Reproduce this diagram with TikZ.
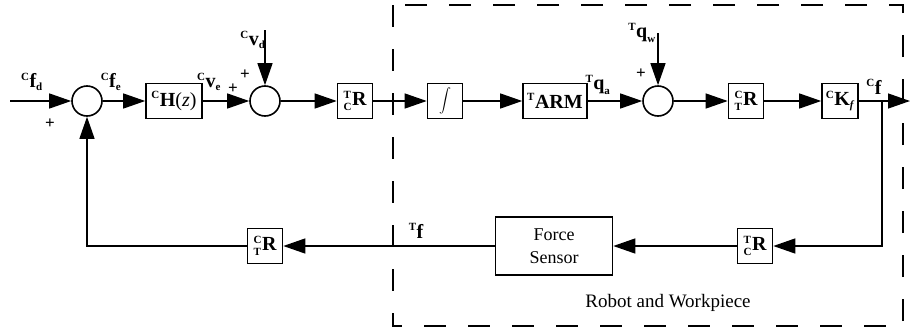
\documentclass[tikz,border=0pt]{standalone}
\usepackage{exscale}
\usepackage{fontspec}
\setmainfont{Liberation Serif}
\usetikzlibrary{arrows.meta}
\newcommand{\sm}[1]{\mbox{\fontsize{11}{12}\selectfont\bfseries #1}}
\begin{document}
\begin{tikzpicture}[x=1pt,y=-1pt,
 blk/.style={draw,line width=1.6pt,minimum height=35pt,minimum width=35pt,inner sep=0pt,font=\fontsize{20}{22}\selectfont},
 sumc/.style={draw,circle,line width=1.6pt,minimum size=30pt,inner sep=0pt},
 sig/.style={line width=1.3pt,-{Triangle[length=22pt,width=15pt]}},
 lab/.style={font=\fontsize{20}{22}\selectfont,inner sep=0pt},
 pm/.style={font=\fontsize{17}{18}\selectfont\bfseries,inner sep=0pt},
 frame/.style={line width=1.6pt,dash pattern=on 22pt off 22pt}
]
\useasboundingbox (0,0) rectangle (910,335);
\coordinate (in) at (10,101);
\node[sumc] (s1) at (87,101) {};
\node[blk,minimum width=56pt] (H) at (174,101) {${}^{\sm{C}}\mbox{\bfseries H}\mbox{(\itshape z\/\upshape)}$};
\node[sumc] (s2) at (265,101) {};
\node[blk] (R1) at (355,101) {${}^{\sm{T}}_{\sm{C}}\mbox{\bfseries R}$};
\node[blk,font=\fontsize{13}{14}\selectfont] (I) at (445,101) {$\displaystyle\int$};
\node[blk,minimum width=64pt] (A) at (555,101) {${}^{\sm{T}}\mbox{\bfseries ARM}$};
\node[sumc] (s3) at (658,101) {};
\node[blk] (R2) at (746,101) {${}^{\sm{C}}_{\sm{T}}\mbox{\bfseries R}$};
\node[blk,minimum width=36pt] (K) at (840,101) {${}^{\sm{C}}\mbox{\bfseries K}_{\sm{\itshape f}}$};
\coordinate (br) at (882,101);
\coordinate (out) at (910,101);
\coordinate (c1) at (882,246);
\node[blk] (R3) at (755,246) {${}^{\sm{T}}_{\sm{C}}\mbox{\bfseries R}$};
\node[blk,minimum width=117pt,minimum height=58pt,align=center,font=\fontsize{18}{23}\selectfont] (FS) at (554,246) {Force\\Sensor};
\node[blk] (R4) at (265,246) {${}^{\sm{C}}_{\sm{T}}\mbox{\bfseries R}$};
\coordinate (c2) at (87,246);
\coordinate (vd) at (265,30);
\coordinate (qw) at (658,33);

\draw[sig] (in) -- (s1);
\draw[sig] (s1) -- (H);
\draw[sig] (H) -- (s2);
\draw[sig] (vd) -- (s2);
\draw[sig] (s2) -- (R1);
\draw[sig] (R1) -- (I);
\draw[sig] (I) -- (A);
\draw[sig] (A) -- (s3);
\draw[sig] (qw) -- (s3);
\draw[sig] (s3) -- (R2);
\draw[sig] (R2) -- (K);
\draw[sig] (K) -- (out);
\draw[sig] (br) -- (c1) -- (R3);
\draw[sig] (R3) -- (FS);
\draw[sig] (FS) -- (R4);
\draw[sig] (R4) -- (c2) -- (s1);

\draw[frame] (393,5) rectangle (903,326);

\node[lab] (lfd) at (32,82) {${}^{\sm{C}}\mbox{\bfseries f}_{\sm{d}}$};
\node[lab] (lfe) at (111,82) {${}^{\sm{C}}\mbox{\bfseries f}_{\sm{e}}$};
\node[lab] (lve) at (209,82) {${}^{\sm{C}}\mbox{\bfseries v}_{\sm{e}}$};
\node[lab] (lvd) at (253,40) {${}^{\sm{C}}\mbox{\bfseries v}_{\sm{d}}$};
\node[lab] (lqa) at (598,85) {${}^{\sm{T}}\mbox{\bfseries q}_{\sm{a}}$};
\node[lab] (lqw) at (642,33) {${}^{\sm{T}}\mbox{\bfseries q}_{\sm{w}}$};
\node[lab] (lcf) at (874,87) {${}^{\sm{C}}\mbox{\bfseries f}$};
\node[lab] (ltf) at (416,231) {${}^{\sm{T}}\mbox{\bfseries f}$};
\node[pm] (p1) at (50,124) {+};
\node[pm] (p2) at (233,89) {+};
\node[pm] (p3) at (245,75) {+};
\node[pm] (p4) at (641,74) {+};
\node[font=\fontsize{19}{21}\selectfont,inner sep=0pt] (rw) at (668,303) {Robot and Workpiece};
\end{tikzpicture}
\end{document}
